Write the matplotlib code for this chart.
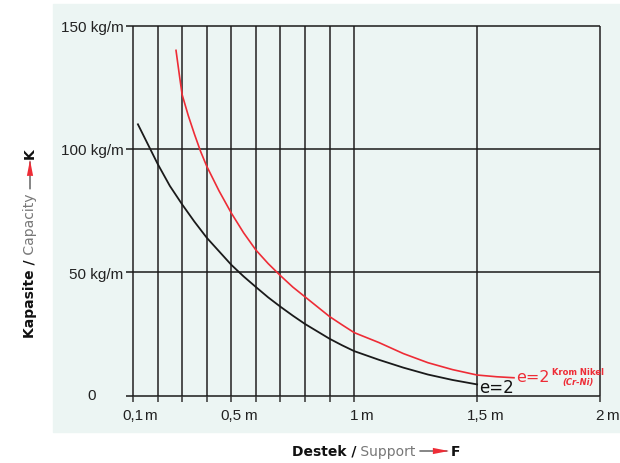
import matplotlib
matplotlib.use("Agg")
import matplotlib.pyplot as plt
from matplotlib import font_manager
from matplotlib.patches import Rectangle
from matplotlib.text import OffsetFrom

# values
support_black = [0.12, 0.15, 0.17, 0.2, 0.25, 0.3, 0.35, 0.4, 0.45, 0.5, 0.55, 0.6, 0.65,
                 0.7, 0.75, 0.8, 0.85, 0.9, 0.95, 1.0, 1.1, 1.2, 1.3, 1.4, 1.5]
capacity_black = [110, 104, 100, 94, 85, 77.5, 70.5, 64, 58.5, 53, 48.3, 44, 39.8,
                  36, 32.4, 29, 26, 23, 20.4, 18, 14.5, 11.3, 8.5, 6.3, 4.5]
support_red = [0.275, 0.29, 0.3, 0.325, 0.35, 0.375, 0.4, 0.45, 0.5, 0.55, 0.6, 0.65, 0.7,
               0.75, 0.8, 0.85, 0.9, 0.95, 1.0, 1.1, 1.2, 1.3, 1.4, 1.5, 1.58, 1.65]
capacity_red = [140, 129, 122, 113.5, 106, 99, 93, 83, 74, 66, 59, 53.5, 48.6,
                44, 40, 36, 32, 28.7, 25.5, 21.5, 17, 13.3, 10.5, 8.3, 7.6, 7.2]

x_grid = [0.1, 0.2, 0.3, 0.4, 0.5, 0.6, 0.7, 0.8, 0.9, 1.0, 1.5, 2.0]
y_grid = [0, 50, 100, 150]
x_labels = {0.1: "0,1", 0.5: "0,5", 1.0: "1", 1.5: "1,5", 2.0: "2"}
y_labels = ["", "50 kg/m", "100 kg/m", "150 kg/m"]

names = {f.name for f in font_manager.fontManager.ttflist}
narrow = "Liberation Sans Narrow" if "Liberation Sans Narrow" in names else "DejaVu Sans"
plain = "Liberation Sans" if "Liberation Sans" in names else "DejaVu Sans"
plt.rcParams["font.family"] = plain

W, H = 620, 464
fig = plt.figure(figsize=(W / 100, H / 100), dpi=100, facecolor="white")
panel = "#ecf5f3"
fig.patches.append(Rectangle((53 / W, (H - 433) / H), (W - 53) / W, (433 - 5) / H,
                             transform=fig.transFigure, color=panel, zorder=-5))

ax = fig.add_axes([133 / W, (H - 396.5) / H, 467 / W, (396.5 - 26.7) / H])
ax.set_facecolor("none")
ax.set_xlim(0.1, 2.0)
ax.set_ylim(0, 150)
for s in ax.spines.values():
    s.set_visible(False)

ax.vlines(x_grid, 0, 150, colors="#4d4d4d", lw=1.4, clip_on=False, zorder=1)
ax.hlines(y_grid, 0.1, 2.0, colors="#1a1a1a", lw=1.1, clip_on=False, zorder=1)

ax.set_xticks(x_grid)
ax.tick_params(axis="x", length=4, width=1.1, color="#333333", labelbottom=False)
ax.set_yticks(y_grid, labels=y_labels)
ax.tick_params(axis="y", length=5, width=1.1, color="#1a1a1a", pad=2, labelsize=11, labelcolor="#222222")

for xv, lab in x_labels.items():
    t = ax.annotate(lab, xy=(xv, 0), xytext=(0, -20), textcoords="offset pixels",
                    ha="center", va="center", fontsize=11, color="#222222")
    gap = 0 if xv == 0.1 else 2
    ax.annotate("m", xy=(1, 0), xycoords=t, xytext=(gap, 0), textcoords="offset pixels",
                ha="left", va="bottom", fontsize=11, color="#222222")
ax.annotate("0", xy=(0.1, 0), xytext=(-41, 0), textcoords="offset pixels",
            ha="center", va="center", fontsize=11, color="#222222")

red = "#ee2c36"
ax.plot(support_black, capacity_black, color="#1a1a1a", lw=1.3, zorder=3, clip_on=False)
ax.plot(support_red, capacity_red, color=red, lw=1.2, zorder=3, clip_on=False)

ax.annotate("e=2", xy=(support_black[-1], capacity_black[-1]), xytext=(2, -3),
            textcoords="offset pixels", ha="left", va="center", family=narrow,
            fontsize=12, color="#111111")
e2 = ax.annotate("e=2", xy=(support_red[-1], capacity_red[-1]), xytext=(2, 1),
                 textcoords="offset pixels", ha="left", va="center", family=narrow,
                 fontsize=11.5, color=red)
krom = ax.annotate("Krom Nikel", xy=(1, 0.85), xycoords=e2, xytext=(3, 0),
                   textcoords="offset pixels", ha="left", va="center", family=narrow,
                   fontsize=6, weight="bold", color=red)
ax.annotate("(Cr-Ni)", xy=(0.5, 0), xycoords=krom, xytext=(0, -1),
            textcoords="offset pixels", ha="center", va="top", family=narrow,
            fontsize=6, weight="bold", style="italic", color=red)

# x axis title: Destek / Support --> F
t1 = fig.text(292 / W, (H - 452) / H, "Destek /", family=narrow, weight="bold",
              fontsize=10, ha="left", va="center", color="#111111")
t2 = ax.annotate(" Support", xy=(1, 0), xycoords=t1, ha="left", va="bottom",
                 family=narrow, fontsize=10, color="#777777")
ref = OffsetFrom(t2, (1, 0.5), unit="pixels")
ax.annotate("", xy=(31, 0), xycoords=ref, xytext=(4, 0), textcoords=ref,
            arrowprops=dict(arrowstyle="-", color="#555555", lw=1, shrinkA=0, shrinkB=0))
ax.annotate("", xy=(33, 0), xycoords=ref, xytext=(17, 0), textcoords=ref,
            arrowprops=dict(arrowstyle="wedge,tail_width=0.45", color=red, lw=0,
                            shrinkA=0, shrinkB=0, mutation_scale=10))
ax.annotate("F", xy=(35, 0), xycoords=ref, ha="left", va="center", family=narrow,
            weight="bold", fontsize=10, color="#111111")

# y axis title: Kapasite / Capacity --> K
k1 = fig.text(30 / W, (H - 338) / H, "Kapasite /", family=narrow, weight="bold",
              fontsize=10, rotation=90, ha="center", va="bottom", color="#111111")
k2 = ax.annotate(" Capacity", xy=(0.5, 1), xycoords=k1, ha="center", va="bottom",
                 rotation=90, family=narrow, fontsize=10, color="#777777")
ref2 = OffsetFrom(k2, (0.5, 1), unit="pixels")
ax.annotate("", xy=(0, 31), xycoords=ref2, xytext=(0, 4), textcoords=ref2,
            arrowprops=dict(arrowstyle="-", color="#555555", lw=1, shrinkA=0, shrinkB=0))
ax.annotate("", xy=(0, 33), xycoords=ref2, xytext=(0, 17), textcoords=ref2,
            arrowprops=dict(arrowstyle="wedge,tail_width=0.45", color=red, lw=0,
                            shrinkA=0, shrinkB=0, mutation_scale=10))
ax.annotate("K", xy=(0, 35), xycoords=ref2, ha="center", va="bottom", rotation=90,
            family=narrow, weight="bold", fontsize=10, color="#111111")

fig.savefig("out.png", dpi=100, facecolor="white")
